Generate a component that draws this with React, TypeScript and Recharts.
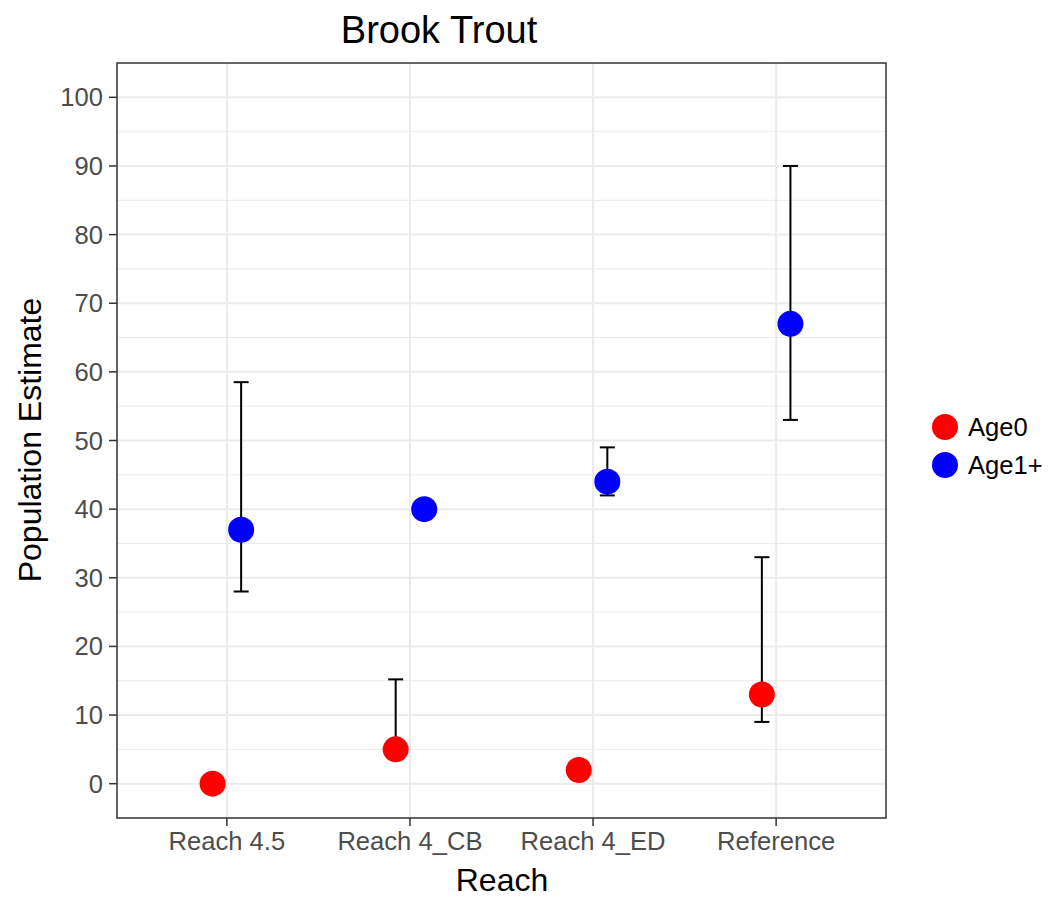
import React from 'react';
import {
  ComposedChart,
  Scatter,
  ErrorBar,
  XAxis,
  YAxis,
  CartesianGrid,
  ReferenceArea,
} from 'recharts';

const reaches = ['Reach 4.5', 'Reach 4_CB', 'Reach 4_ED', 'Reference'];

const age0 = [0, 5, 2, 13];
const age0Low = [null, 4, null, 9];
const age0High = [null, 15.2, null, 33];

const age1 = [37, 40, 44, 67];
const age1Low = [28, null, 42, 53];
const age1High = [58.5, null, 49, 90];

const yTicks = [0, 10, 20, 30, 40, 50, 60, 70, 80, 90, 100];
const yMinor = [5, 15, 25, 35, 45, 55, 65, 75, 85, 95];
const xTicks = [1, 2, 3, 4];

const DODGE = 0.078;
const FONT = '"Liberation Sans", Arial, Helvetica, sans-serif';

type Row = { x: number; y: number; err?: number[] };

const buildSeries = (
  vals: number[],
  lows: (number | null)[],
  highs: (number | null)[],
  shift: number
): Row[] =>
  vals.map((v, i) => {
    const lo = lows[i];
    const hi = highs[i];
    return {
      x: i + 1 + shift,
      y: v,
      err: lo == null || hi == null ? undefined : [v - lo, hi - v],
    };
  });

const age0Data = buildSeries(age0, age0Low, age0High, -DODGE);
const age1Data = buildSeries(age1, age1Low, age1High, DODGE);

const dot = (color: string) => (p: any) =>
  <circle cx={p.cx} cy={p.cy} r={13} fill={color} />;

export default function App() {
  return (
    <div style={{ position: 'absolute', left: 0, top: 0, width: 1049, height: 897, background: '#fff', fontFamily: FONT }}>
      <ComposedChart
        width={1049}
        height={897}
        margin={{ top: 63, right: 163, bottom: 0, left: 0 }}
      >
        <CartesianGrid horizontalValues={yMinor} vertical={false} stroke="#EBEBEB" strokeWidth={1} />
        <CartesianGrid horizontalValues={yTicks} verticalValues={xTicks} stroke="#EBEBEB" strokeWidth={2} />
        <XAxis
          type="number"
          dataKey="x"
          domain={[0.4, 4.6]}
          ticks={xTicks}
          allowDataOverflow
          tickFormatter={(v: number) => reaches[v - 1]}
          height={79}
          axisLine={false}
          tickSize={8}
          tickMargin={6}
          tickLine={{ stroke: '#333333', strokeWidth: 1.5 }}
          tick={{ fill: '#4D4D4D', fontSize: 25.6, fontFamily: FONT }}
        />
        <YAxis
          type="number"
          domain={[-5, 105]}
          ticks={yTicks}
          allowDataOverflow
          width={117}
          axisLine={false}
          tickSize={8}
          tickMargin={6}
          tickLine={{ stroke: '#333333', strokeWidth: 1.5 }}
          tick={{ fill: '#4D4D4D', fontSize: 25.6, fontFamily: FONT }}
        />
        <Scatter name="Age0" data={age0Data} dataKey="y" isAnimationActive={false} shape={dot('#FF0000')}>
          <ErrorBar dataKey="err" direction="y" width={7.5} stroke="#000" strokeWidth={2} isAnimationActive={false} />
        </Scatter>
        <Scatter name="Age1+" data={age1Data} dataKey="y" isAnimationActive={false} shape={dot('#0000FF')}>
          <ErrorBar dataKey="err" direction="y" width={7.5} stroke="#000" strokeWidth={2} isAnimationActive={false} />
        </Scatter>
        <ReferenceArea x1={0.4} x2={4.6} y1={-5} y2={105} fill="none" stroke="#333333" strokeWidth={1.5} />
      </ComposedChart>
      <svg width={1049} height={897} style={{ position: 'absolute', left: 0, top: 0, pointerEvents: 'none' }}>
        <text x={439} y={43} textAnchor="middle" fontSize={38} fill="#000" fontFamily={FONT}>Brook Trout</text>
        <text x={502} y={891} textAnchor="middle" fontSize={32} fill="#000" fontFamily={FONT}>Reach</text>
        <text x={41} y={440} textAnchor="middle" fontSize={32} fill="#000" fontFamily={FONT} transform="rotate(-90 41 440)">
          Population Estimate
        </text>
        <circle cx={945} cy={427} r={13} fill="#FF0000" />
        <text x={968} y={436} fontSize={25.6} fill="#000" fontFamily={FONT}>Age0</text>
        <circle cx={945} cy={465} r={13} fill="#0000FF" />
        <text x={968} y={474} fontSize={25.6} fill="#000" fontFamily={FONT}>Age1+</text>
      </svg>
    </div>
  );
}
